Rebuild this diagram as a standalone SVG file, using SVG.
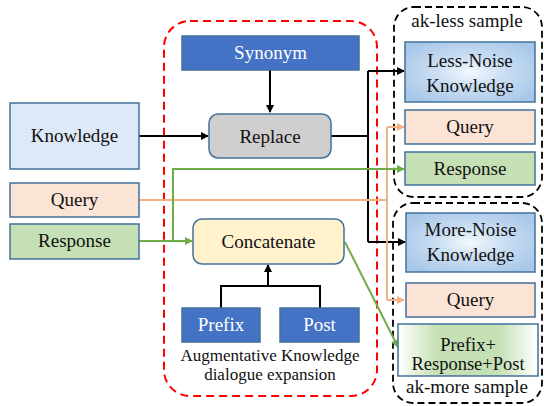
<svg xmlns="http://www.w3.org/2000/svg" width="544" height="406" viewBox="0 0 544 406" font-family="Liberation Serif, DejaVu Serif, serif">
  <style>
    .t { font-size: 19px; fill: #111; text-anchor: middle; }
    .w { fill: #ffffff; }
    .s { font-size: 17px; }
    .m { font-size: 18.5px; }
    .box { stroke: #41719c; stroke-width: 1.5; }
    .blk { fill: none; stroke: #000; stroke-width: 2; }
    .grn { fill: none; stroke: #70ad47; stroke-width: 2; }
    .org { fill: none; stroke: #f4b183; stroke-width: 2; }
    .red { fill: none; stroke: #ff0000; stroke-width: 2; stroke-dasharray: 8 5; }
    .dsh { fill: none; stroke: #000; stroke-width: 1.8; stroke-dasharray: 7 4; }
  </style>
  <defs>
    <marker id="aBlk" markerWidth="8" markerHeight="8" refX="7" refY="4" orient="auto" markerUnits="userSpaceOnUse">
      <path d="M0,0 L8,4 L0,8 Z" fill="#000"/>
    </marker>
    <marker id="aGrn" markerWidth="8" markerHeight="8" refX="7" refY="4" orient="auto" markerUnits="userSpaceOnUse">
      <path d="M0,0 L8,4 L0,8 Z" fill="#70ad47"/>
    </marker>
    <marker id="aOrg" markerWidth="8" markerHeight="8" refX="7" refY="4" orient="auto" markerUnits="userSpaceOnUse">
      <path d="M0,0 L8,4 L0,8 Z" fill="#f4b183"/>
    </marker>
    <radialGradient id="noise" cx="0.5" cy="0.5" r="0.6">
      <stop offset="0" stop-color="#f4f8fd"/>
      <stop offset="0.45" stop-color="#c9ddf2"/>
      <stop offset="1" stop-color="#a9c8e9"/>
    </radialGradient>
    <linearGradient id="mix" x1="0" y1="0" x2="1" y2="0">
      <stop offset="0" stop-color="#ffffff"/>
      <stop offset="0.28" stop-color="#c5e0b4"/>
      <stop offset="0.72" stop-color="#c5e0b4"/>
      <stop offset="1" stop-color="#ffffff"/>
    </linearGradient>
  </defs>

  <!-- group outlines -->
  <g id="expansion-area">
    <rect class="red" x="164" y="21" width="213" height="375" rx="26"/>
    <text class="t s" x="270" y="361">Augmentative Knowledge</text>
    <text class="t s" x="270" y="380">dialogue expansion</text>
  </g>
  <g id="ak-less">
    <rect class="dsh" x="394" y="7" width="148" height="190" rx="20"/>
    <text class="t" x="467" y="27">ak-less sample</text>
  </g>
  <g id="ak-more">
    <rect class="dsh" x="393" y="203" width="149" height="200" rx="20"/>
    <text class="t" x="467" y="393">ak-more sample</text>
  </g>

  <!-- connectors -->
  <g id="connectors">
    <path class="blk" d="M270,70 V112" marker-end="url(#aBlk)"/>
    <path class="blk" d="M139,136 H208" marker-end="url(#aBlk)"/>
    <path class="blk" d="M331,136 H368"/>
    <path class="blk" d="M368,71 V242"/>
    <path class="blk" d="M368,71 H404" marker-end="url(#aBlk)"/>
    <path class="blk" d="M368,242 H405" marker-end="url(#aBlk)"/>
    <path class="blk" d="M221,308 V286 H320 V308"/>
    <path class="blk" d="M268,286 V265" marker-end="url(#aBlk)"/>
    <path class="org" d="M139,200 H387"/>
    <path class="org" d="M387,127 V300"/>
    <path class="org" d="M387,127 H404" marker-end="url(#aOrg)"/>
    <path class="org" d="M387,300 H404" marker-end="url(#aOrg)"/>
    <path class="grn" d="M139,241 H192" marker-end="url(#aGrn)"/>
    <path class="grn" d="M173,241 V169 H404" marker-end="url(#aGrn)"/>
    <path class="grn" d="M345,242 L398,347" marker-end="url(#aGrn)"/>
  </g>

  <!-- input nodes -->
  <g id="knowledge">
    <rect class="box" x="10" y="103" width="129" height="66" fill="#dde9f6"/>
    <text class="t" x="74.5" y="142">Knowledge</text>
  </g>
  <g id="query-in">
    <rect class="box" x="10" y="183" width="129" height="34" fill="#fbe3d6"/>
    <text class="t" x="74.5" y="206">Query</text>
  </g>
  <g id="response-in">
    <rect class="box" x="10" y="224" width="129" height="35" fill="#c5e0b4"/>
    <text class="t" x="74.5" y="247">Response</text>
  </g>

  <!-- expansion nodes -->
  <g id="synonym">
    <rect class="box" x="182" y="36" width="177" height="34" fill="#4472c4"/>
    <text class="t w" x="270.5" y="59">Synonym</text>
  </g>
  <g id="replace">
    <rect class="box" x="209" y="114" width="122" height="44" rx="9" fill="#d0cece"/>
    <text class="t" x="270" y="143">Replace</text>
  </g>
  <g id="concatenate">
    <rect class="box" x="193" y="219" width="151" height="45" rx="9" fill="#fff2cc"/>
    <text class="t" x="268.5" y="248">Concatenate</text>
  </g>
  <g id="prefix">
    <rect class="box" x="182" y="308" width="78" height="34" fill="#4472c4"/>
    <text class="t w" x="221" y="331">Prefix</text>
  </g>
  <g id="post">
    <rect class="box" x="280" y="308" width="79" height="34" fill="#4472c4"/>
    <text class="t w" x="319.5" y="331">Post</text>
  </g>

  <!-- ak-less sample nodes -->
  <g id="less-noise">
    <rect class="box" x="405" y="42" width="130" height="60" fill="url(#noise)"/>
    <text class="t" x="470" y="67">Less-Noise</text>
    <text class="t" x="470" y="92">Knowledge</text>
  </g>
  <g id="query-less">
    <rect class="box" x="405" y="110" width="130" height="34" fill="#fbe3d6"/>
    <text class="t" x="470" y="133">Query</text>
  </g>
  <g id="response-less">
    <rect class="box" x="405" y="152" width="130" height="33" fill="#c5e0b4"/>
    <text class="t" x="470" y="175">Response</text>
  </g>

  <!-- ak-more sample nodes -->
  <g id="more-noise">
    <rect class="box" x="406" y="213" width="129" height="59" fill="url(#noise)"/>
    <text class="t" x="470.5" y="236">More-Noise</text>
    <text class="t" x="470.5" y="261">Knowledge</text>
  </g>
  <g id="query-more">
    <rect class="box" x="406" y="283" width="129" height="34" fill="#fbe3d6"/>
    <text class="t" x="470.5" y="306">Query</text>
  </g>
  <g id="prefix-response-post">
    <rect class="box" x="398" y="324" width="140" height="52" fill="url(#mix)"/>
    <text class="t m" x="468" y="351">Prefix+</text>
    <text class="t m" x="468" y="370">Response+Post</text>
  </g>
</svg>
